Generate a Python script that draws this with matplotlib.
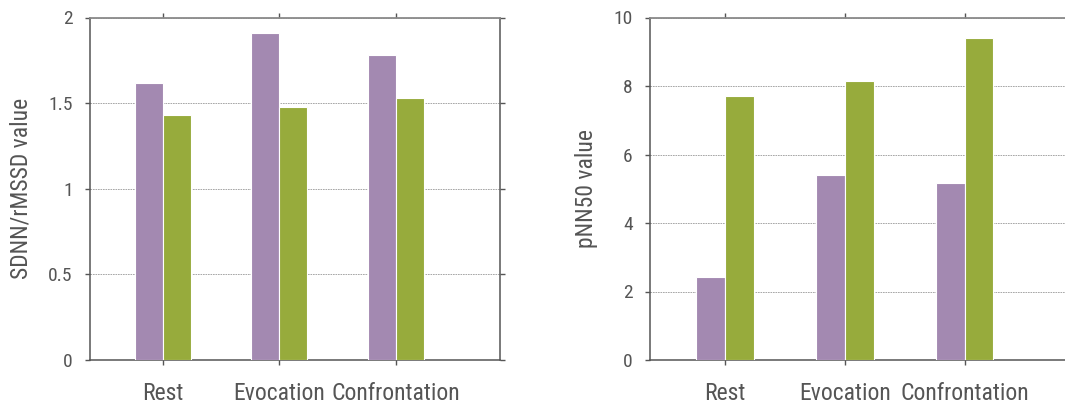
import matplotlib
matplotlib.use("Agg")
import matplotlib.pyplot as plt
from matplotlib import font_manager
import numpy as np

# veriler
conditions = ["Rest", "Evocation", "Confrontation"]
sdnn_purple = [1.62, 1.91, 1.78]
sdnn_green = [1.43, 1.475, 1.53]
pnn50_purple = [2.41, 5.40, 5.17]
pnn50_green = [7.72, 8.15, 9.39]

purple = "#A389B1"
green = "#97AB3C"
textcol = "#555555"

# dar (condensed) bir font bulmaya çalış
narrow = None
for f in font_manager.fontManager.ttflist:
    n = (f.name + " " + str(f.stretch)).lower()
    if ("condensed" in n or "narrow" in n) and f.style == "normal" and f.weight in (300, 400, "normal", "light"):
        narrow = f
        if "roboto" in n or "liberation" in n:
            break

if narrow is not None:
    fp = font_manager.FontProperties(fname=narrow.fname)
    big, small = 17, 14
else:
    fp = font_manager.FontProperties(family="DejaVu Sans")
    big, small = 13, 12

fig = plt.figure(figsize=(10.65, 4.03), dpi=100)
ax1 = fig.add_axes([90 / 1065, 43 / 403, 410 / 1065, 342.5 / 403])
ax2 = fig.add_axes([650 / 1065, 43 / 403, 421.7 / 1065, 342.5 / 403])

x = np.arange(1, len(conditions) + 1)
w = 0.24


def draw(ax, a, b, ymax, step, ylabel):
    ax.bar(x, a, width=-w, align="edge", color=purple, edgecolor="white", linewidth=0.8, zorder=3)
    ax.bar(x, b, width=w, align="edge", color=green, edgecolor="white", linewidth=0.8, zorder=3)
    ax.set_xlim(0.374, 3.893)
    ax.set_ylim(0, ymax)
    yt = np.arange(0, ymax + step / 2, step)
    ax.set_yticks(yt)
    ax.set_yticklabels(["%g" % v for v in yt], fontproperties=fp, fontsize=small)
    ax.set_xticks(x)
    ax.set_xticklabels(conditions, fontproperties=fp, fontsize=big)
    ax.yaxis.grid(True, color="#9a9a9a", linestyle=(0, (2, 1)), linewidth=0.6, zorder=0)
    ax.set_axisbelow(True)
    ax.tick_params(axis="both", direction="out", length=3.5, width=1, color="#555555",
                   top=True, right=True, labelcolor=textcol)
    ax.tick_params(axis="y", pad=9)
    ax.tick_params(axis="x", pad=12)
    for s in ["left", "bottom", "right"]:
        ax.spines[s].set_color("#555555")
        ax.spines[s].set_linewidth(1.1)
    ax.spines["top"].set_color("#8a8a8a")
    ax.spines["top"].set_linewidth(1.3)
    ax.set_ylabel(ylabel, fontproperties=fp, fontsize=big, color=textcol, labelpad=11)


draw(ax1, sdnn_purple, sdnn_green, 2, 0.5, "SDNN/rMSSD value")
draw(ax2, pnn50_purple, pnn50_green, 10, 2, "pNN50 value")

fig.savefig("out.png", dpi=100)
